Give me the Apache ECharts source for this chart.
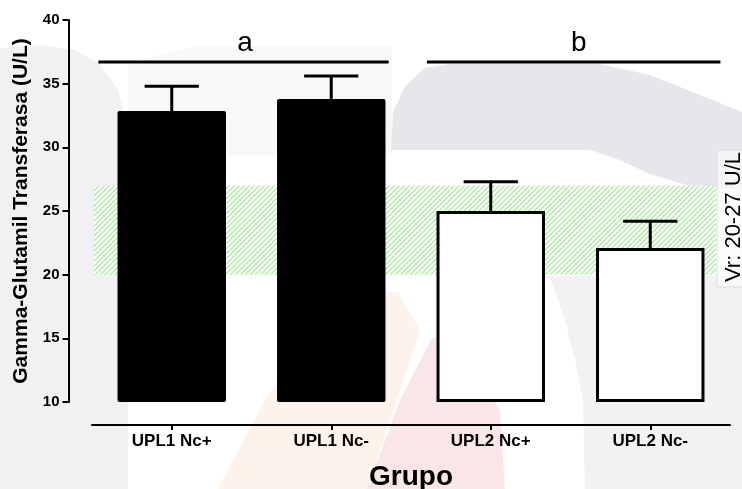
<!DOCTYPE html>
<html>
<head>
<meta charset="utf-8">
<script src="https://cdn.jsdelivr.net/npm/echarts@6/dist/echarts.min.js"></script>
<style>
  html, body { margin: 0; padding: 0; background: #ffffff; }
  #chart { width: 742px; height: 489px; }
</style>
</head>
<body>
<div id="chart"></div>
<script>
// GGT by group: mean and upper SEM
const categories = ['UPL1 Nc+', 'UPL1 Nc-', 'UPL2 Nc+', 'UPL2 Nc-'];
const means = [32.85, 33.8, 25.0, 22.1];
const sem = [1.95, 1.8, 2.3, 2.1];
// reference interval (U/L)
const refRange = [20, 27];
const refLabel = 'Vr: 20-27 U/L';
// significance groups
const groupLetters = ['a', 'b'];
const yMin = 10, yMax = 40, yStep = 5;

const FONT = '"Liberation Sans", Arial, Helvetica, sans-serif';

// light green diagonal hatch for the reference band
function hatchPattern() {
  const s = 5;
  const c = document.createElement('canvas');
  c.width = s; c.height = s;
  const g = c.getContext('2d');
  g.fillStyle = '#ffffff';
  g.fillRect(0, 0, s, s);
  g.strokeStyle = '#a8ee9c';
  g.lineWidth = 1.3;
  g.beginPath();
  g.moveTo(-1, s + 1); g.lineTo(s + 1, -1);
  g.moveTo(-1, 1); g.lineTo(1, -1);
  g.moveTo(s - 1, s + 1); g.lineTo(s + 1, s - 1);
  g.stroke();
  return c;
}
const hatch = { image: hatchPattern(), repeat: 'repeat' };

// horizontal extent of each significance bracket, in category units
const groupSpan = [[-0.46, 1.36], [1.60, 3.44]];
const groupLineValue = 36.7;

const chart = echarts.init(document.getElementById('chart'), null, { renderer: 'canvas' });

const option = {
  animation: false,
  backgroundColor: '#ffffff',
  textStyle: { fontFamily: FONT },
  graphic: [
    // faint background watermark
    { type: 'polygon', z: -10, silent: true,
      shape: { points: [[0,48],[40,45],[75,50],[100,64],[118,90],[128,130],[128,489],[0,489]] },
      style: { fill: '#f1f1f3' } },
    { type: 'polygon', z: -10, silent: true,
      shape: { points: [[128,62],[200,46],[392,46],[392,155],[128,155]] },
      style: { fill: '#f8f8f9' } },
    { type: 'polygon', z: -9, silent: true,
      shape: { points: [[391,150],[393,112],[405,86],[425,68],[450,64],[600,64],[650,75],[700,95],[742,112],[742,190],[690,186],[650,174],[615,158],[590,150]] },
      style: { fill: '#e7e7eb' } },
    { type: 'polygon', z: -10, silent: true,
      shape: { points: [[540,276],[551,280],[565,320],[575,360],[583,400],[585,489],[742,489],[742,276]] },
      style: { fill: '#f2f2f4' } },
    { type: 'polygon', z: -10, silent: true,
      shape: { points: [[218,489],[265,400],[300,352],[383,292],[398,292],[420,330],[367,489]] },
      style: { fill: '#fdf3ea' } },
    { type: 'polygon', z: -10, silent: true,
      shape: { points: [[367,489],[400,400],[432,338],[446,338],[480,380],[500,410],[505,489]] },
      style: { fill: '#f9e6e6' } },
    // reference interval caption box
    { type: 'rect', z: 5, silent: true,
      shape: { x: 717, y: 150, width: 30, height: 137 },
      style: { fill: 'rgba(250,250,251,0.75)', stroke: '#dedee2', lineWidth: 1 } },
    { type: 'text', z: 6, silent: true,
      x: 733.5, y: 217, rotation: Math.PI / 2,
      style: { text: refLabel, font: '22px ' + FONT, fill: '#000000', align: 'center', verticalAlign: 'middle' } }
  ],
  grid: { left: 92, right: 12, top: 20, bottom: 87, containLabel: false, outerBoundsMode: 'none' },
  xAxis: [
    {
      type: 'category',
      data: categories,
      offset: 23,
      axisLine: { show: true, onZero: false, lineStyle: { color: '#000', width: 2 } },
      axisTick: { show: true, alignWithLabel: true, length: 5, lineStyle: { color: '#000', width: 2 } },
      axisLabel: { margin: 8, color: '#000', fontSize: 17, fontWeight: 'bold', fontFamily: FONT },
      splitLine: { show: false },
      name: 'Grupo',
      nameLocation: 'middle',
      nameGap: 38,
      nameTextStyle: { color: '#000', fontSize: 28, fontWeight: 'bold', fontFamily: FONT }
    },
    { type: 'value', min: -0.5, max: 3.5, show: false }
  ],
  yAxis: {
    type: 'value',
    min: yMin, max: yMax, interval: yStep,
    startValue: yMin,
    offset: 23.5,
    axisLine: { show: true, onZero: false, lineStyle: { color: '#000', width: 2 } },
    axisTick: { show: true, inside: false, length: 6, lineStyle: { color: '#000', width: 2 } },
    axisLabel: { margin: 9, color: '#000', fontSize: 15, fontWeight: 'bold', fontFamily: FONT },
    splitLine: { show: false },
    name: 'Gamma-Glutamil Transferasa (U/L)',
    nameLocation: 'middle',
    nameGap: 34,
    nameTextStyle: { color: '#000', fontSize: 21, fontWeight: 'bold', fontFamily: FONT }
  },
  series: [
    {
      // hatched reference band
      type: 'custom',
      xAxisIndex: 1,
      z: 1,
      silent: true,
      data: [refRange],
      renderItem: function (params, api) {
        const lo = api.value(0), hi = api.value(1);
        const p0 = api.coord([-0.4875, hi]);
        const p1 = api.coord([3.412, lo]);
        return {
          type: 'rect',
          shape: { x: p0[0], y: p0[1], width: p1[0] - p0[0], height: p1[1] - p0[1] },
          style: { fill: hatch }
        };
      }
    },
    {
      type: 'bar',
      xAxisIndex: 0,
      z: 2,
      barWidth: '68%',
      data: means.map(function (v, i) {
        return {
          value: v,
          itemStyle: i < 2
            ? { color: '#000000', borderRadius: 2 }
            : { color: '#ffffff', borderColor: '#000000', borderWidth: 3 }
        };
      })
    },
    {
      // upper SEM whiskers
      type: 'custom',
      xAxisIndex: 0,
      z: 3,
      silent: true,
      data: means.map(function (m, i) { return [i, m, m + sem[i]]; }),
      renderItem: function (params, api) {
        const base = api.coord([api.value(0), api.value(1)]);
        const top = api.coord([api.value(0), api.value(2)]);
        const half = api.size([1, 0])[0] * 0.17;
        const st = { stroke: '#000', lineWidth: 3, fill: null };
        return {
          type: 'group',
          children: [
            { type: 'line', shape: { x1: base[0], y1: base[1], x2: top[0], y2: top[1] }, style: st },
            { type: 'line', shape: { x1: top[0] - half, y1: top[1], x2: top[0] + half, y2: top[1] }, style: st }
          ]
        };
      }
    },
    {
      // significance brackets
      type: 'custom',
      xAxisIndex: 1,
      z: 3,
      silent: true,
      data: groupLetters.map(function (l, i) { return [i]; }),
      renderItem: function (params, api) {
        const i = params.dataIndex;
        const a = api.coord([groupSpan[i][0], groupLineValue]);
        const b = api.coord([groupSpan[i][1], groupLineValue]);
        return {
          type: 'group',
          children: [
            { type: 'line', shape: { x1: a[0], y1: a[1], x2: b[0], y2: b[1] },
              style: { stroke: '#000', lineWidth: 3 } },
            { type: 'text', x: (a[0] + b[0]) / 2 + (i === 0 ? 1.5 : 5), y: a[1] - 19,
              style: { text: groupLetters[i], font: '28px ' + FONT, fill: '#000', align: 'center', verticalAlign: 'middle' } }
          ]
        };
      }
    }
  ]
};

chart.setOption(option);
</script>
</body>
</html>
